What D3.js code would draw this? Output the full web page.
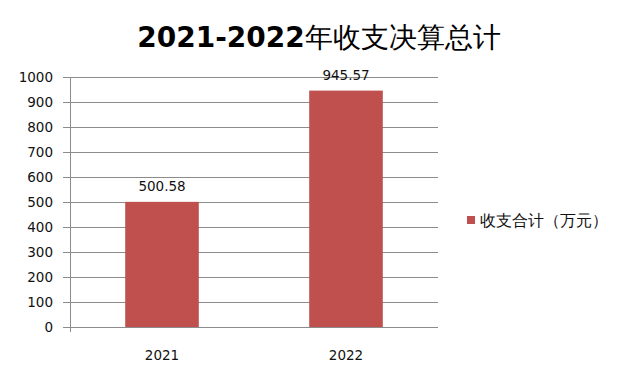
<!DOCTYPE html>
<html>
<head>
<meta charset="utf-8">
<script src="https://cdn.jsdelivr.net/npm/d3@7"></script>
<style>
  body { margin: 0; background: #fff; }
  text { font-family: "DejaVu Sans", Verdana, sans-serif; }
</style>
</head>
<body>
<div id="chart"></div>
<script>
var years = ["2021", "2022"];
var totals = [500.58, 945.57];
var yTicks = [0, 100, 200, 300, 400, 500, 600, 700, 800, 900, 1000];
var seriesName = "收支合计（万元）";
var titleParts = ["2021-2022", "年收支决算总计"];

var width = 640, height = 384,
    margin = {top: 77, left: 70, right: 202, bottom: 57};

var svg = d3.select("#chart")
    .append("svg")
    .attr("width", width)
    .attr("height", height)

var x = d3.scaleBand()
    .domain(years)
    .range([margin.left, width - margin.right])
    .paddingInner(0.6)
    .paddingOuter(0.3)

var y = d3.scaleLinear()
    .domain([0, 1000])
    .range([height - margin.bottom, margin.top])

// gridlines
svg.append("g")
    .selectAll("line")
    .data(yTicks).enter().append("line")
    .attr("x1", margin.left - 7)
    .attr("x2", width - margin.right)
    .attr("y1", function(d){ return y(d) + 0.5; })
    .attr("y2", function(d){ return y(d) + 0.5; })
    .attr("stroke", "#8c8c8c")
    .attr("stroke-width", 1)

// y labels
svg.append("g")
    .selectAll("text")
    .data(yTicks).enter().append("text")
    .attr("x", 53)
    .attr("y", function(d){ return y(d); })
    .attr("dy", "0.36em")
    .attr("text-anchor", "end")
    .attr("font-size", 13.5)
    .attr("fill", "#111")
    .text(function(d){ return d; })

// bars
svg.append("g")
    .selectAll("rect")
    .data(totals).enter().append("rect")
    .attr("x", function(d, i){ return x(years[i]); })
    .attr("width", x.bandwidth())
    .attr("y", function(d){ return y(d); })
    .attr("height", function(d){ return y(0) - y(d); })
    .attr("fill", "#c0504d")

// value labels
svg.append("g")
    .selectAll("text")
    .data(totals).enter().append("text")
    .attr("x", function(d, i){ return x(years[i]) + x.bandwidth() / 2; })
    .attr("y", function(d){ return y(d) - 11; })
    .attr("text-anchor", "middle")
    .attr("font-size", 13.5)
    .attr("fill", "#111")
    .text(function(d){ return d.toFixed(2); })

// y axis line
svg.append("line")
    .attr("x1", margin.left + 0.5).attr("x2", margin.left + 0.5)
    .attr("y1", margin.top).attr("y2", y(0) + 5)
    .attr("stroke", "#8c8c8c")

// x labels
svg.append("g")
    .selectAll("text")
    .data(years).enter().append("text")
    .attr("x", function(d){ return x(d) + x.bandwidth() / 2; })
    .attr("y", 360)
    .attr("text-anchor", "middle")
    .attr("font-size", 13.5)
    .attr("fill", "#111")
    .text(function(d){ return d; })

// title: bold digits, regular CJK
var t = svg.append("text")
    .attr("x", 319)
    .attr("y", 47)
    .attr("text-anchor", "middle")
    .attr("font-family", "'Noto Sans CJK SC', sans-serif")
    .attr("font-size", 28)
    .attr("fill", "#000")
t.append("tspan").attr("font-weight", "bold").text(titleParts[0])
t.append("tspan").attr("font-weight", "500").text(titleParts[1])

// legend
var legend = svg.append("g").attr("transform", "translate(467,216)")
legend.append("rect")
    .attr("width", 8).attr("height", 8)
    .attr("fill", "#c0504d")
legend.append("text")
    .attr("x", 13)
    .attr("y", 4)
    .attr("dy", "0.36em")
    .attr("font-family", "'Noto Sans CJK SC', sans-serif")
    .attr("font-size", 16)
    .attr("fill", "#111")
    .text(seriesName)
</script>
</body>
</html>
